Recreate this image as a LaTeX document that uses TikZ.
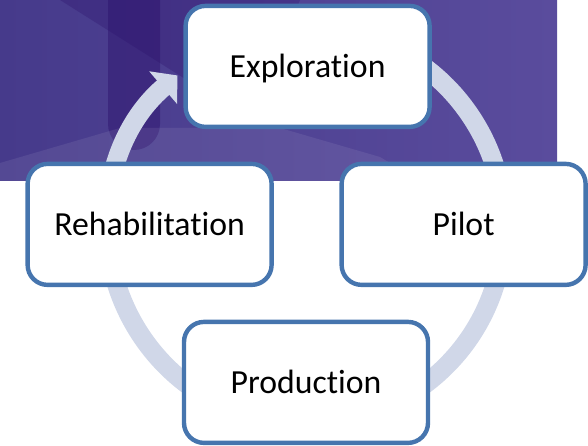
\documentclass[tikz,border=0pt]{standalone}
\usepackage{fontspec}
\setmainfont[Ligatures=NoCommon]{Carlito}
\usepackage{tikz}
\usetikzlibrary{arrows.meta}
\definecolor{stageblue}{HTML}{4675AE}
\definecolor{cyclegray}{HTML}{D0D7E8}
\definecolor{bgpurple}{HTML}{463A8B}
\definecolor{bglight}{HTML}{5A4C9D}
\definecolor{bgdark}{HTML}{2C106B}

\begin{document}
\begin{tikzpicture}[
    stage/.style={rectangle, draw=stageblue, fill=white, line width=0.11cm,
                  rounded corners=0.5cm, minimum width=6.1cm, minimum height=3.025cm,
                  font=\fontsize{24}{28}\selectfont, text height=15.5pt, text depth=0pt},
    band/.style={draw=cyclegray, line width=0.475cm},
    cyclearrow/.style={band, -{Triangle[width=1.05cm, length=0.47cm]}}
]
\useasboundingbox (0,0) rectangle (14.7,11.15);

% Backdrop
\shade[left color=bgpurple, right color=bglight] (0,6.625) rectangle (13.925,11.15);
\fill[bgdark, opacity=0.3] (1.5,11.15) -- (4.75,9.1) -- (6.5,8.65) -- (7.5,11.15) -- cycle;
\fill[bgdark, opacity=0.45] (2.7,11.15) -- (2.7,8.05) arc[start angle=180, end angle=360, radius=0.65] -- (4.0,11.15) -- cycle;
\fill[white, opacity=0.08] (0,6.625) -- (0,7.075) -- (3.0,7.95) -- (7.0,7.95) -- (9.5,7.225) -- (10.5,6.625) -- cycle;

% Cycle
\coordinate (hub) at (7.65,5.5);
\draw[cyclearrow] ([shift={(126:4.95)}]hub) arc[start angle=126, end angle=-229.5, radius=4.95];

% Stages
\node[stage] at (7.69,9.49) (explore) {Exploration};
\node[stage] at (11.59,5.54) (pilot) {Pilot};
\node[stage] at (7.65,1.59) (produce) {Production};
\node[stage] at (3.74,5.54) (rehab) {Rehabilitation};

\end{tikzpicture}
\end{document}
